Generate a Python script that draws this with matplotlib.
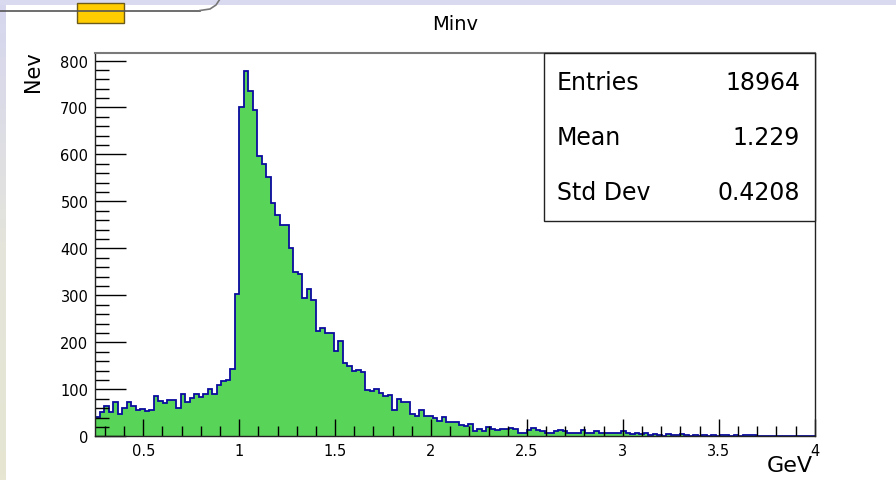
import numpy as np
import matplotlib
matplotlib.use("Agg")
import matplotlib.pyplot as plt
from matplotlib.patches import Rectangle
from matplotlib.lines import Line2D

# Invariant mass histogram: 160 bins from 0.25 to 4 GeV
x_min, x_max, n_bins = 0.25, 4.0, 160
counts = [
    41, 52, 65, 51, 72, 47, 60, 72, 65, 57,
    59, 53, 56, 85, 75, 70, 78, 78, 61, 89,
    74, 82, 89, 83, 90, 100, 90, 109, 117, 120,
    143, 304, 702, 777, 735, 695, 597, 579, 553, 496,
    471, 450, 450, 400, 350, 346, 295, 314, 291, 225,
    231, 219, 220, 181, 203, 155, 150, 139, 141, 136,
    99, 97, 100, 93, 85, 87, 57, 80, 74, 72,
    48, 44, 55, 43, 44, 38, 33, 41, 30, 30,
    30, 25, 21, 26, 12, 16, 11, 19, 16, 13,
    15, 16, 18, 16, 8, 8, 14, 17, 14, 11,
    6, 8, 11, 13, 11, 6, 6, 8, 13, 6,
    8, 11, 6, 8, 6, 8, 8, 11, 6, 4,
    6, 4, 6, 3, 4, 3, 1, 4, 3, 2,
    4, 3, 0, 3, 0, 2, 0, 2, 0, 3,
    2, 0, 2, 1, 2, 2, 2, 1, 0, 0,
    0, 0, 0, 0, 0, 0, 0, 0, 0, 0,
]
stat_names = ["Entries", "Mean", "Std Dev"]
stat_values = ["18964", "1.229", "0.4208"]

x_ticks = [0.5, 1.0, 1.5, 2.0, 2.5, 3.0, 3.5, 4.0]
x_ticklabels = ["0.5", "1", "1.5", "2", "2.5", "3", "3.5", "4"]
y_ticks = [0, 100, 200, 300, 400, 500, 600, 700, 800]

W, H = 896, 481
fig = plt.figure(figsize=(W / 100, H / 100), dpi=100)
fig.patch.set_facecolor("white")


def fx(px):
    return px / W


def fy(py):
    return 1 - py / H


# slide frame: lavender band on top, fading strip on the left
top_band = Rectangle((0, fy(6)), 1, 6 / H, transform=fig.transFigure,
                     facecolor="#d9d9f0", edgecolor="none", zorder=0)
fig.add_artist(top_band)
strip_ax = fig.add_axes([0, 0, fx(6), fy(6)])
grad = np.linspace(0, 1, 100).reshape(-1, 1)
cmap = matplotlib.colors.LinearSegmentedColormap.from_list(
    "strip", ["#d6d6ef", "#e4e4dc", "#e6e6d2"])
strip_ax.imshow(grad, aspect="auto", cmap=cmap, extent=[0, 1, 0, 1])
strip_ax.set_axis_off()

fig.add_artist(Line2D([0, fx(200)], [fy(11.5), fy(11.5)],
                      transform=fig.transFigure, color="#555555", lw=1.2))
fig.add_artist(Line2D([fx(200), fx(210), fx(216), fx(220)],
                      [fy(11.5), fy(10), fy(6), fy(0)],
                      transform=fig.transFigure, color="#777777", lw=1.2))
fig.add_artist(Rectangle((fx(77), fy(23.5)), fx(124) - fx(77), 20 / H,
                         transform=fig.transFigure, facecolor="#ffcc00",
                         edgecolor="#6b5a1a", lw=1.0))

ax = fig.add_axes([fx(95.3), fy(437.3), fx(814.7) - fx(95.3),
                   fy(54) - fy(437.3)])

edges = np.linspace(x_min, x_max, n_bins + 1)
ax.stairs(counts, edges, baseline=0, fill=True, color="#58d558", lw=0)
ax.stairs(counts, edges, baseline=0, color="#0b0b9e", lw=1.3)

ax.set_xlim(x_min, x_max)
ax.set_ylim(0, 816)

ax.set_xticks(x_ticks)
ax.set_xticklabels(x_ticklabels)
ax.set_xticks(np.arange(0.3, 4.0, 0.1), minor=True)
ax.set_yticks(y_ticks)
ax.set_yticks(np.arange(0, 816, 20), minor=True)

ax.tick_params(axis="both", which="both", direction="in", top=False,
               right=False, labelsize=10.5, colors="black")
ax.tick_params(axis="y", which="major", length=22, width=1, pad=5)
ax.tick_params(axis="y", which="minor", length=10, width=1)
ax.tick_params(axis="x", which="major", length=12, width=1, pad=5)
ax.tick_params(axis="x", which="minor", length=7, width=1)

for side in ["left", "bottom", "right"]:
    ax.spines[side].set_color("#222222")
    ax.spines[side].set_linewidth(1.0)
ax.spines["top"].set_color("#7a7a7a")
ax.spines["top"].set_linewidth(1.5)

# titles and axis labels
fig.text(fx(455), fy(25), "Minv", ha="center", va="center", fontsize=14)
fig.text(fx(33), fy(72), "Nev", ha="center", va="center", rotation=90,
         fontsize=15)
fig.text(fx(813), fy(466), "GeV", ha="right", va="center", fontsize=16)

# statistics box
fig.add_artist(Rectangle((fx(544), fy(221.5)), fx(815) - fx(544),
                         fy(54) - fy(221.5), transform=fig.transFigure,
                         facecolor="white", edgecolor="#222222", lw=1.0,
                         zorder=5))
for i, (name, val) in enumerate(zip(stat_names, stat_values)):
    y = fy(83 + 55 * i)
    fig.text(fx(557), y, name, ha="left", va="center", fontsize=17, zorder=6)
    fig.text(fx(800), y, val, ha="right", va="center", fontsize=17, zorder=6)

fig.savefig("out.png", dpi=100)
